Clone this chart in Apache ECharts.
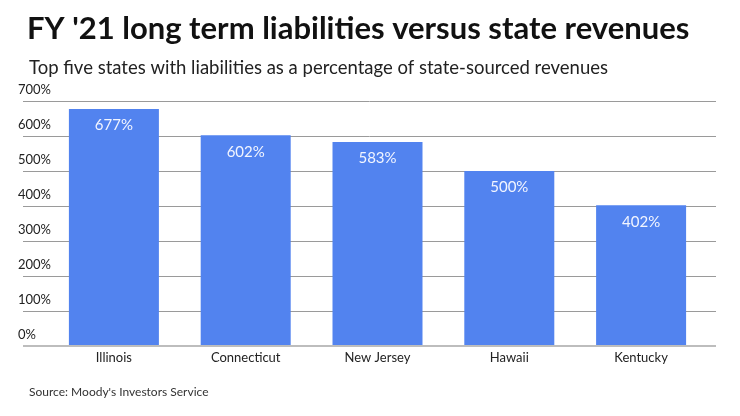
<!DOCTYPE html>
<html><head><meta charset="utf-8">
<script src="https://cdn.jsdelivr.net/npm/echarts@6/dist/echarts.min.js"></script>
<style>html,body{margin:0;padding:0;background:#fff}#c{width:740px;height:416px}</style>
</head><body><div id="c"></div>
<script>
const categories = ['Illinois','Connecticut','New Jersey','Hawaii','Kentucky'];
const values = [677, 602, 583, 500, 402];
const yTicks = [0,100,200,300,400,500,600,700];

const chart = echarts.init(document.getElementById('c'), null, {renderer:'canvas'});
const F = 'Lato, "Noto Sans", sans-serif';
chart.setOption({
  animation:false,
  title:[
    {text:"FY '21 long term liabilities versus state revenues", left:22, top:8,
     textStyle:{fontFamily:F, fontSize:31, fontWeight:'bold', color:'#111'}},
    {text:'Top five states with liabilities as a percentage of state-sourced revenues', left:24, top:54,
     textStyle:{fontFamily:F, fontSize:18.5, fontWeight:'normal', color:'#222'}},
    {text:"Source: Moody's Investors Service", left:24, top:381,
     textStyle:{fontFamily:F, fontSize:12, fontWeight:'normal', color:'#333'}}
  ],
  grid:[
    {left:23, right:24, top:101, bottom:70},
    {left:48, right:33, top:101, bottom:70}
  ],
  xAxis:[
    {gridIndex:0, type:'category', data:categories, show:false},
    {gridIndex:1, type:'category', data:categories,
     axisLine:{show:false}, axisTick:{show:false},
     axisLabel:{fontFamily:F, fontSize:13, color:'#222', margin:5}}
  ],
  yAxis:[
    {gridIndex:0, type:'value', min:yTicks[0], max:yTicks[yTicks.length-1], interval:100,
     axisLine:{show:false}, axisTick:{show:false},
     splitLine:{show:true, lineStyle:{color:'#9a9a9a', width:1}},
     axisLabel:{fontFamily:F, fontSize:13, color:'#222', align:'left', verticalAlign:'bottom',
       margin:5, padding:[0,0,5,0], formatter: v => v + '%'}},
    {gridIndex:1, type:'value', min:0, max:700, interval:100, show:false, splitLine:{show:false}}
  ],
  series:[
    {type:'line', xAxisIndex:0, yAxisIndex:0, data:[], silent:true,
     markLine:{silent:true, symbol:'none', label:{show:false},
       lineStyle:{color:'#bdbdbd', width:2, type:'solid'}, data:[{yAxis:0}]}},
    {type:'bar', xAxisIndex:1, yAxisIndex:1, data:values, barWidth:90,
     itemStyle:{color:'#5283ef'},
     label:{show:true, position:'insideTop', distance:9, color:'#f2f5ff',
       fontFamily:F, fontSize:15, formatter: p => p.value + '%'}}
  ]
});
</script></body></html>
